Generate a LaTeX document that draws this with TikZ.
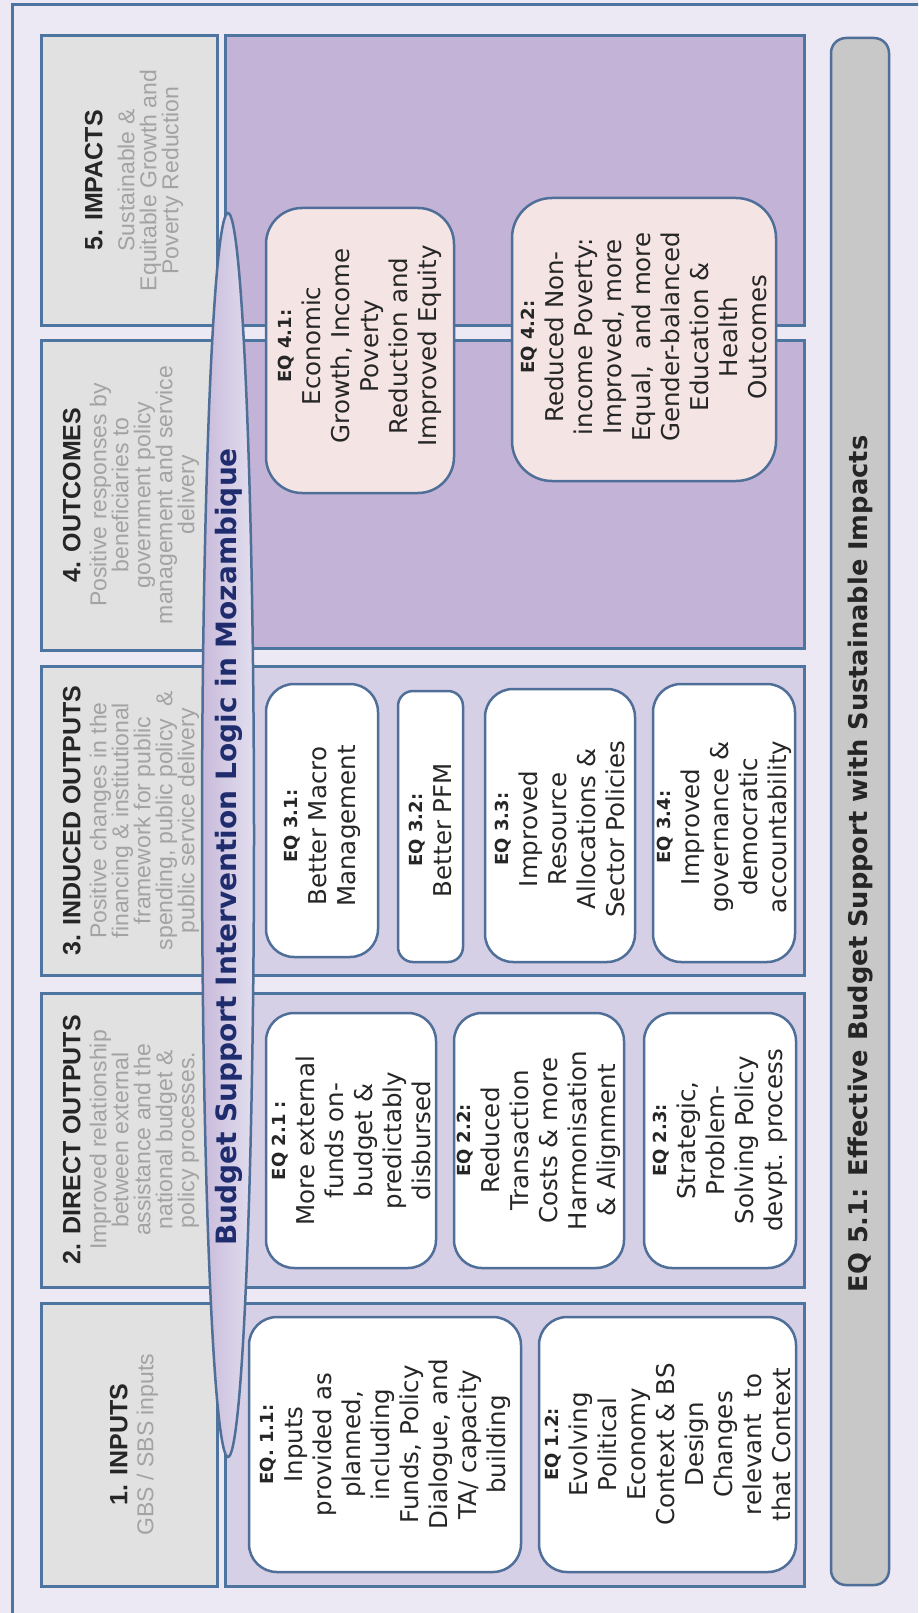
\documentclass[tikz,border=0pt]{standalone}
\usepackage{fontspec}
\setmainfont{DejaVu Sans}
\newfontfamily\arialf{Liberation Sans}
\definecolor{bg}{HTML}{ECE8F4}
\definecolor{frameblue}{HTML}{4D75A0}
\definecolor{boxblue}{HTML}{4F6E98}
\definecolor{hdrgray}{HTML}{E1E1E1}
\definecolor{purpdark}{HTML}{C2B3D7}
\definecolor{purplight}{HTML}{D6D0E7}
\definecolor{boxpink}{HTML}{F4E4E4}
\definecolor{bargray}{HTML}{C8C8C8}
\definecolor{navy}{HTML}{1F2C6E}
\definecolor{subgray}{HTML}{A3A3A3}
\definecolor{titleblack}{HTML}{262626}
\begin{document}
\begin{tikzpicture}[x=1pt,y=-1pt,
  hdrbox/.style={draw=frameblue,line width=3pt,fill=hdrgray},
  panel/.style={draw=frameblue,line width=3pt},
  eqbox/.style={draw=boxblue,line width=2.5pt,fill=white,rounded corners=28pt},
  pinkbox/.style={draw=boxblue,line width=2.5pt,fill=boxpink,rounded corners=36pt},
  hdrtext/.style={rotate=90,align=center,text=subgray,font=\arialf\fontsize{23}{22}\selectfont},
  eqtext/.style={rotate=90,align=center,text=black!85,font=\fontsize{24.5}{29}\selectfont}]
\clip (0,0) rectangle (918,1613);
\fill[bg] (0,0) rectangle (918,1613);
\draw[frameblue,line width=3pt] (12,1620) -- (12,5) -- (925,5);

% header boxes
\draw[hdrbox] (41,36) rectangle (217,325);
\draw[hdrbox] (41,340) rectangle (217,650);
\draw[hdrbox] (41,666) rectangle (217,975);
\draw[hdrbox] (41,993) rectangle (217,1287);
\draw[hdrbox] (41,1303) rectangle (217,1586);

% panels
\draw[panel,fill=purpdark] (225,36) rectangle (804,325);
\draw[panel,fill=purpdark] (225,340) rectangle (804,648);
\draw[panel,fill=purplight] (225,666) rectangle (804,975);
\draw[panel,fill=purplight] (225,993) rectangle (804,1287);
\draw[panel,fill=purplight] (225,1303) rectangle (804,1586);

% bottom bar
\draw[draw=boxblue,line width=2.5pt,fill=bargray,rounded corners=15pt] (831,38) rectangle (889,1585);

% header texts
\node[hdrtext] (h5) at (134,180.5) {{\color{titleblack}\bfseries\fontsize{25}{27}\selectfont 5. IMPACTS}\\[10pt]Sustainable \&\\Equitable Growth and\\Poverty Reduction};
\node[hdrtext] (h4) at (131,495) {{\color{titleblack}\bfseries\fontsize{25}{27}\selectfont 4. OUTCOMES}\\[4pt]Positive responses by\\beneficiaries to\\government policy\\management and service\\delivery};
\node[hdrtext] (h3) at (131,820.5) {{\color{titleblack}\bfseries\fontsize{25}{27}\selectfont 3. INDUCED OUTPUTS}\\[4pt]Positive changes in the\\financing \& institutional\\framework for public\\spending, public policy~~\&\\public service delivery};
\node[hdrtext] (h2) at (131,1140) {{\color{titleblack}\bfseries\fontsize{25}{27}\selectfont 2. DIRECT OUTPUTS}\\[4pt]Improved relationship\\between external\\assistance and the\\national budget \&\\policy processes.};
\node[hdrtext] (h1) at (134,1444.5) {{\color{titleblack}\bfseries\fontsize{25}{27}\selectfont 1. INPUTS}\\[4pt]GBS / SBS inputs};

% ellipse with title
\draw[draw=boxblue,line width=2.5pt,left color=purpdark!90!white,right color=purplight!70!white] (228,835) ellipse [x radius=26pt,y radius=622pt];
\node[rotate=90,text=navy,font=\bfseries\fontsize{28}{30}\selectfont] (title) at (229,847) {Budget Support Intervention Logic in Mozambique};

% EQ 1
\draw[eqbox] (249,1317) rectangle (521,1572);
\node[eqtext] (q11) at (385,1444.5) {{\bfseries\fontsize{18}{29}\selectfont EQ. 1.1:}\\Inputs\\provided as\\planned,\\including\\Funds, Policy\\Dialogue, and\\TA/ capacity\\building};
\draw[eqbox] (539,1317) rectangle (796,1572);
\node[eqtext] (q12) at (667.5,1444.5) {{\bfseries\fontsize{18}{29}\selectfont EQ 1.2:}\\Evolving\\Political\\Economy\\Context \& BS\\Design\\Changes\\relevant~ to\\that Context};

% EQ 2
\draw[eqbox] (266,1013) rectangle (436,1268);
\node[eqtext] (q21) at (351,1140.5) {{\bfseries\fontsize{18}{29}\selectfont EQ 2.1 :}\\More external\\funds on-\\budget \&\\predictably\\disbursed};
\draw[eqbox] (454,1013) rectangle (624,1268);
\node[eqtext] (q22) at (539,1140.5) {{\bfseries\fontsize{18}{29}\selectfont EQ 2.2:}\\Reduced\\Transaction\\Costs \& more\\Harmonisation\\\& Alignment};
\draw[eqbox] (644,1013) rectangle (796,1268);
\node[eqtext] (q23) at (720,1140.5) {{\bfseries\fontsize{18}{29}\selectfont EQ 2.3:}\\Strategic,\\Problem-\\Solving Policy\\devpt. process};

% EQ 3
\draw[eqbox] (266,684) rectangle (378,957);
\node[eqtext] (q31) at (322,826) {{\bfseries\fontsize{18}{29}\selectfont EQ 3.1:}\\Better Macro\\Management};
\draw[eqbox,rounded corners=15pt] (398,691) rectangle (463,962);
\node[eqtext] (q32) at (430.5,830) {{\bfseries\fontsize{18}{29}\selectfont EQ 3.2:}\\Better PFM};
\draw[eqbox] (485,689) rectangle (635,962);
\node[eqtext] (q33) at (560,829) {{\bfseries\fontsize{18}{29}\selectfont EQ 3.3:}\\Improved\\Resource\\Allocations \&\\Sector Policies};
\draw[eqbox] (653,684) rectangle (795,962);
\node[eqtext] (q34) at (724,827) {{\bfseries\fontsize{18}{29}\selectfont EQ 3.4:}\\Improved\\governance \&\\democratic\\accountability};

% EQ 4
\draw[pinkbox] (266,208) rectangle (454,493);
\node[eqtext] (q41) at (360,346) {{\bfseries\fontsize{18}{29}\selectfont EQ 4.1:}\\Economic\\Growth, Income\\Poverty\\Reduction and\\Improved Equity};
\draw[pinkbox,rounded corners=40pt] (512,198) rectangle (776,481);
\node[eqtext] (q42) at (644,337) {{\bfseries\fontsize{18}{29}\selectfont EQ 4.2:}\\Reduced Non-\\income Poverty:\\Improved, more\\Equal,~ and more\\Gender-balanced\\Education \&\\Health\\Outcomes};

% EQ 5.1
\node[rotate=90,text=titleblack,font=\bfseries\fontsize{25.7}{28}\selectfont] (q51) at (860,864) {EQ 5.1: Effective Budget Support with Sustainable Impacts};
\end{tikzpicture}
\end{document}
